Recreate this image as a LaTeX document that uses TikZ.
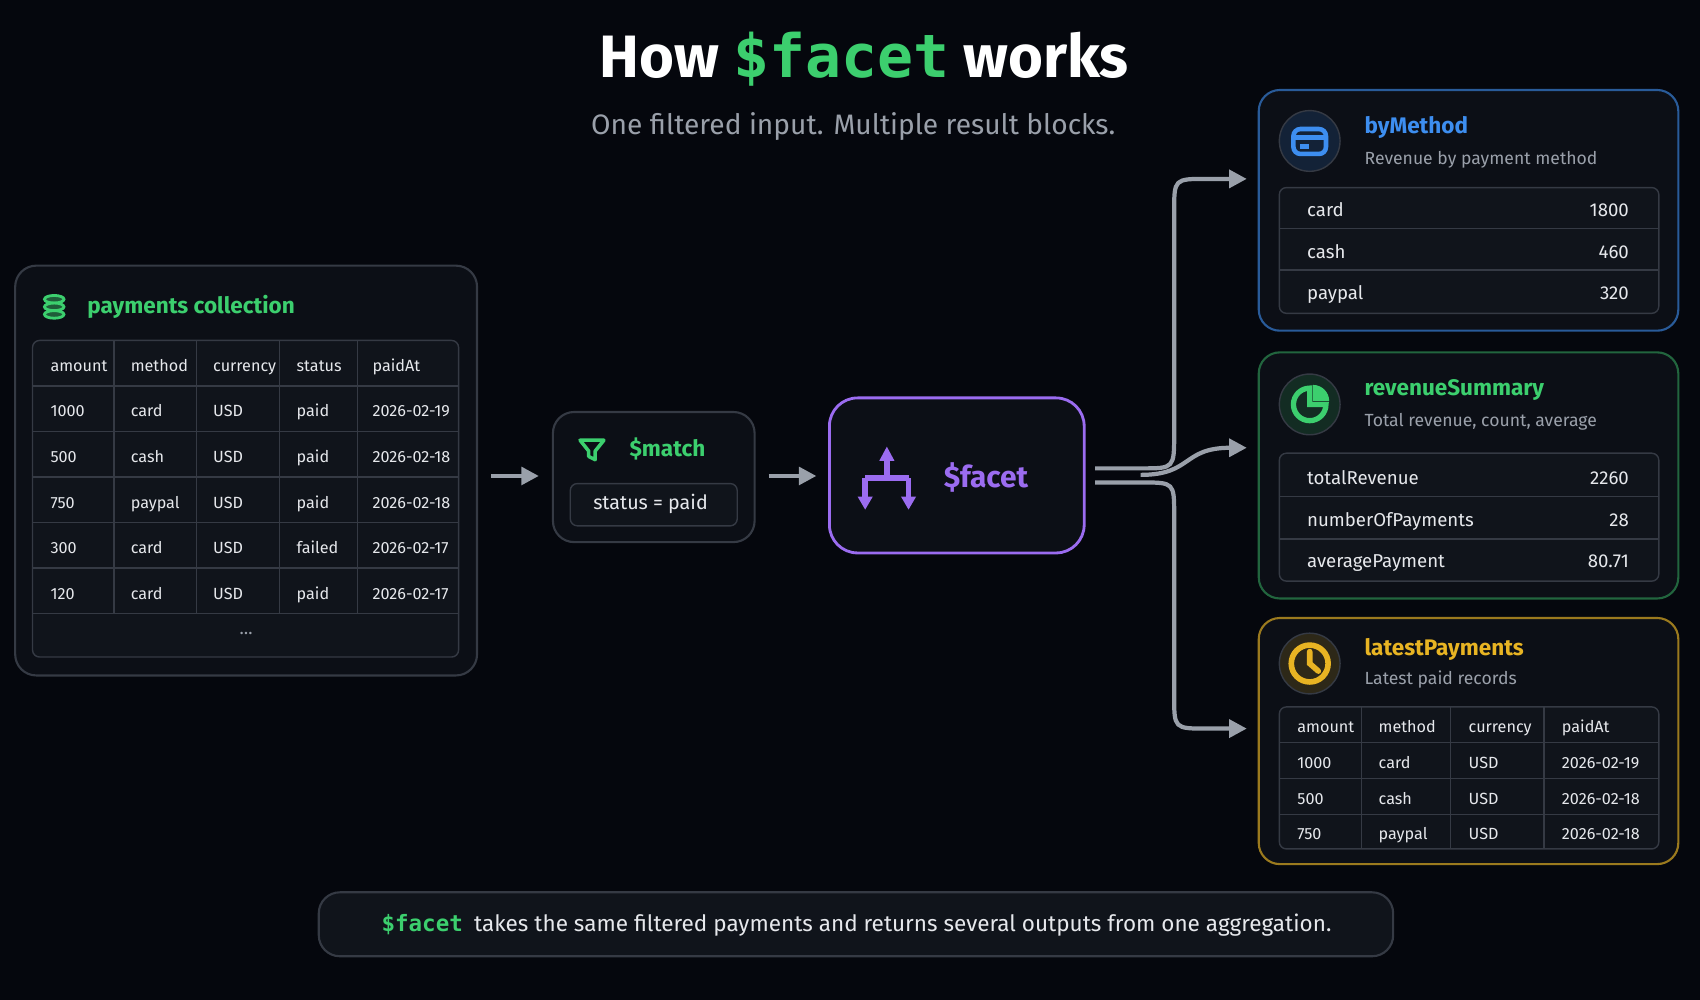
\documentclass[tikz,border=0pt]{standalone}
\usepackage{fontspec}
\setmainfont{Fira Sans}
\newfontfamily\codefont{DejaVu Sans Mono}
\usetikzlibrary{arrows.meta,positioning}
\definecolor{bgcol}{HTML}{05070D}
\definecolor{panelcol}{HTML}{0C0F16}
\definecolor{cellcol}{HTML}{10141B}
\definecolor{edgecol}{HTML}{353A44}
\definecolor{greencol}{HTML}{3CCF6E}
\definecolor{purplecol}{HTML}{9B6CF0}
\definecolor{bluecol}{HTML}{3D8EF0}
\definecolor{yellowcol}{HTML}{E8B423}
\definecolor{textcol}{HTML}{E6E8EC}
\definecolor{graycol}{HTML}{9AA0AA}
\newcommand{\fsz}[1]{\fontsize{#1}{1.2\dimexpr#1\relax}\selectfont}
\tikzset{
  panel/.style={draw=edgecol, fill=panelcol, rounded corners=6pt, line width=0.6pt},
  grid line/.style={draw=edgecol, line width=0.4pt},
  cell/.style={text=textcol, anchor=west, font=\fsz{4.6pt}, inner sep=0pt, text height=1.2ex, text depth=0.2ex, yshift=0.3pt},
  rcell/.style={text=textcol, font=\fsz{5.3pt}, inner sep=0pt, text height=1.2ex, text depth=0.2ex, yshift=0.3pt},
  ptitle/.style={anchor=west, font=\fsz{6.4pt}\bfseries, inner sep=0pt},
  psub/.style={anchor=west, text=graycol, font=\fsz{5pt}, inner sep=0pt},
  flow/.style={draw=graycol, line width=1.2pt, -{Triangle[length=5pt,width=5pt]}},
}
\begin{document}
\begin{tikzpicture}[x=0.01084cm, y=-0.01084cm]
\fill[bgcol] (0,0) rectangle (1568,922);
\useasboundingbox (0,0) rectangle (1568,922);

% title
\node[text=white, font=\fsz{17pt}\bfseries] (title) at (797,55)
  {How {\color{greencol}\codefont\$facet} works};
\node[text=graycol, font=\fsz{8pt}] (subtitle) at (787,117)
  {One filtered input. Multiple result blocks.};

% source collection
\draw[panel] (14,245) rectangle (440,623);
\node (dbicon) at (50,283) {};
\foreach \yy in {276,283,290}
  \draw[greencol, fill=greencol!40!panelcol, line width=0.8pt] (50,\yy) ellipse (9 and 3.5);
\node[ptitle, text=greencol] (srctitle) at (80,283) {payments collection};
\draw[grid line, fill=cellcol, rounded corners=2pt] (30,314) rectangle (423,606);
\foreach \xx in {105,181,258,330}
  \draw[grid line] (\xx,314) -- (\xx,566);
\foreach \yy in {356,398,440,482,524,566}
  \draw[grid line] (30,\yy) -- (423,\yy);
\foreach \txt [count=\i] in {amount,method,currency,status,paidAt}{
  \pgfmathsetmacro{\cx}{{0,46,120,196,273,343}[\i]}
  \node[cell] (h\i) at (\cx,335) {\txt};
}
\foreach \a/\b/\c/\d/\e [count=\j] in {
  1000/card/USD/paid/2026-02-19,
  500/cash/USD/paid/2026-02-18,
  750/paypal/USD/paid/2026-02-18,
  300/card/USD/failed/2026-02-17,
  120/card/USD/paid/2026-02-17}{
  \pgfmathsetmacro{\cy}{335+42*\j}
  \node[cell] (r\j a) at (46,\cy) {\a};
  \node[cell] (r\j b) at (120,\cy) {\b};
  \node[cell] (r\j c) at (196,\cy) {\c};
  \node[cell] (r\j d) at (273,\cy) {\d};
  \node[cell] (r\j e) at (343,\cy) {\e};
}
\node[text=graycol, font=\fsz{5pt}] (more) at (227,584) {\dots};

% match stage
\coordinate (arA) at (453,439);
\coordinate (arB) at (497,439);
\draw[flow] (arA) -- (arB);
\draw[panel] (510,380) rectangle (696,500);
\node (match) at (603,440) {};
\draw[greencol, line width=1pt, line join=round] (535,406) -- (557,406) -- (549,416) -- (549,424) -- (543,421) -- (543,416) -- cycle;
\node[ptitle, text=greencol] (matchtitle) at (580,414) {\$match};
\draw[grid line, fill=cellcol, rounded corners=2pt] (526,446) rectangle (680,485);
\node[text=textcol, font=\fsz{5.6pt}] (cond) at (600,465) {status = paid};

% facet stage
\coordinate (arC) at (709,439);
\coordinate (arD) at (753,439);
\draw[flow] (arC) -- (arD);
\draw[draw=purplecol, fill=panelcol, rounded corners=8pt, line width=0.8pt] (765,367) rectangle (1000,510);
\node (facet) at (882,438) {};
\begin{scope}[purplecol, line width=1.6pt]
  \draw (818,425) -- (818,441) (798,441) -- (838,441) (798,441) -- (798,458) (838,441) -- (838,458);
  \fill (818,412) -- (811,425) -- (825,425) -- cycle;
  \fill (798,470) -- (791,458) -- (805,458) -- cycle;
  \fill (838,470) -- (831,458) -- (845,458) -- cycle;
\end{scope}
\node[ptitle, text=purplecol, font=\fsz{8.5pt}\bfseries] (facettitle) at (870,440) {\$facet};

% connectors to outputs
\coordinate (outA) at (1010,432);
\coordinate (outB) at (1052,438);
\coordinate (outC) at (1010,445);
\coordinate (inA) at (1150,165);
\coordinate (inB) at (1150,413);
\coordinate (inC) at (1150,672);
\draw[flow] (outA) -- (1053,432) .. controls (1083,432) .. (1083,400) -- (1083,195)
  .. controls (1083,165) .. (1113,165) -- (inA);
\draw[flow] (outB) .. controls (1100,438) and (1090,413) .. (inB);
\draw[flow] (outC) -- (1053,445) .. controls (1083,445) .. (1083,475) -- (1083,642)
  .. controls (1083,672) .. (1113,672) -- (inC);

% byMethod
\draw[panel, draw=bluecol!60!panelcol] (1161,83) rectangle (1548,305);
\draw[fill=bluecol!15!panelcol, draw=edgecol] (1208,130) circle (28);
\draw[bluecol, line width=1.3pt, rounded corners=2pt] (1193,119) rectangle (1223,142);
\draw[bluecol, line width=1.3pt] (1193,127) -- (1223,127) (1199,135) -- (1207,135);
\node (bymethod) at (1208,130) {};
\node[ptitle, text=bluecol] (bmtitle) at (1258,118) {byMethod};
\node[psub] (bmsub) at (1258,147) {Revenue by payment method};
\draw[grid line, fill=cellcol, rounded corners=2pt] (1180,173) rectangle (1530,289);
\foreach \yy in {211,249} \draw[grid line] (1180,\yy) -- (1530,\yy);
\foreach \k/\v/\yy in {card/1800/192,cash/460/231,paypal/320/269}{
  \node[rcell, anchor=west] (bm\k) at (1205,\yy) {\k};
  \node[rcell, anchor=east] (bm\k v) at (1503,\yy) {\v};
}

% revenueSummary
\draw[panel, draw=greencol!45!panelcol] (1161,325) rectangle (1548,552);
\draw[fill=greencol!15!panelcol, draw=edgecol] (1208,373) circle (28);
\draw[greencol, line width=1.5pt] (1208,358) arc (-90:-360:15) -- (1208,373) -- cycle;
\fill[greencol] (1211,370) -- ++(0,-15) arc (-90:0:15) -- cycle;
\node (revsum) at (1208,373) {};
\node[ptitle, text=greencol] (rstitle) at (1258,360) {revenueSummary};
\node[psub] (rssub) at (1258,389) {Total revenue, count, average};
\draw[grid line, fill=cellcol, rounded corners=2pt] (1180,418) rectangle (1530,536);
\foreach \yy in {458,497} \draw[grid line] (1180,\yy) -- (1530,\yy);
\foreach \k/\v/\yy in {totalRevenue/2260/439,numberOfPayments/28/478,averagePayment/80.71/516}{
  \node[rcell, anchor=west] (rs\k) at (1205,\yy) {\k};
  \node[rcell, anchor=east] (rs\k v) at (1503,\yy) {\v};
}

% latestPayments
\draw[panel, draw=yellowcol!65!panelcol] (1161,570) rectangle (1548,797);
\draw[fill=yellowcol!15!panelcol, draw=edgecol] (1208,612) circle (28);
\draw[yellowcol, line width=1.6pt] (1208,612) circle (17);
\draw[yellowcol, line width=1.6pt, line cap=round] (1208,601) -- (1208,612) -- (1216,619);
\node (latest) at (1208,612) {};
\node[ptitle, text=yellowcol] (lptitle) at (1258,599) {latestPayments};
\node[psub] (lpsub) at (1258,627) {Latest paid records};
\draw[grid line, fill=cellcol, rounded corners=2pt] (1180,652) rectangle (1530,783);
\foreach \xx in {1256,1338,1424} \draw[grid line] (\xx,652) -- (\xx,783);
\foreach \yy in {685,718,751} \draw[grid line] (1180,\yy) -- (1530,\yy);
\foreach \a/\b/\c/\d [count=\j from 0] in {
  amount/method/currency/paidAt,
  1000/card/USD/2026-02-19,
  500/cash/USD/2026-02-18,
  750/paypal/USD/2026-02-18}{
  \pgfmathsetmacro{\cy}{668+33*\j}
  \node[cell] (lp\j a) at (1196,\cy) {\a};
  \node[cell] (lp\j b) at (1271,\cy) {\b};
  \node[cell] (lp\j c) at (1354,\cy) {\c};
  \node[cell] (lp\j d) at (1440,\cy) {\d};
}

% footer note
\draw[panel, fill=cellcol] (294,823) rectangle (1285,882);
\node[text=textcol, font=\fsz{6.4pt}] (note) at (790,853)
  {{\color{greencol}\codefont\bfseries\$facet}\enspace takes the same filtered payments and returns several outputs from one aggregation.};
\end{tikzpicture}
\end{document}
